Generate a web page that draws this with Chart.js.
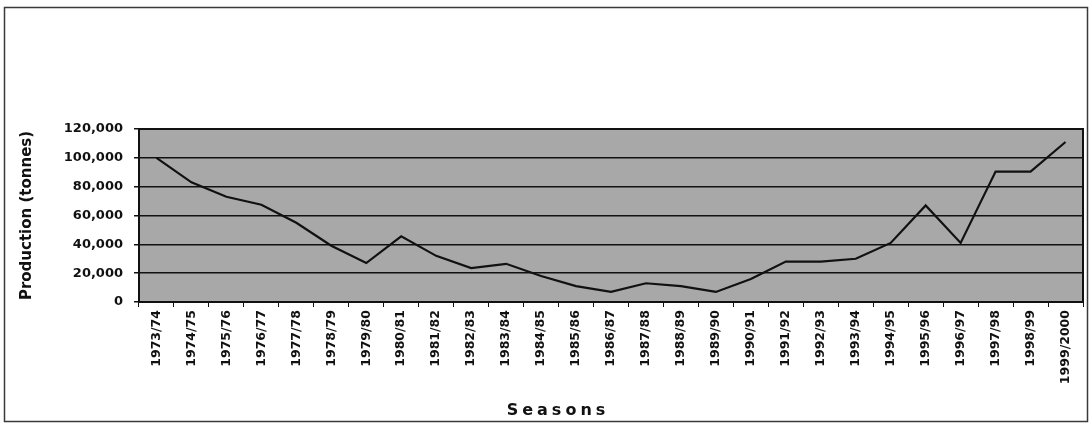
<!DOCTYPE html>
<html>
<head>
<meta charset="utf-8">
<script src="https://cdn.jsdelivr.net/npm/chart.js@4"></script>
<style>
  html, body { margin: 0; padding: 0; background: #fff; }
  #wrap { width: 1091px; height: 425px; }
</style>
</head>
<body>
<div id="wrap"><canvas id="prodChart"></canvas></div>
<script>
const seasons = [
  "1973/74", "1974/75", "1975/76", "1976/77", "1977/78", "1978/79", "1979/80",
  "1980/81", "1981/82", "1982/83", "1983/84", "1984/85", "1985/86", "1986/87",
  "1987/88", "1988/89", "1989/90", "1990/91", "1991/92", "1992/93", "1993/94",
  "1994/95", "1995/96", "1996/97", "1997/98", "1998/99", "1999/2000"
];
const production = [
  100000, 83000, 73000, 67500, 55000, 39000, 27000,
  45500, 32000, 23500, 26500, 18000, 11000, 7000,
  13000, 11000, 7000, 16000, 28000, 28000, 30000,
  41000, 67000, 41000, 90500, 90500, 111000
];
const yMax = 120000;
const yStep = 20000;

// grey plot box + outer frame + letter-spaced axis title
const paperPlugin = {
  id: "paper",
  beforeDraw(chart) {
    const ctx = chart.ctx;
    const a = chart.chartArea;
    ctx.save();
    ctx.fillStyle = "#ffffff";
    ctx.fillRect(0, 0, chart.width, chart.height);
    ctx.strokeStyle = "#3a3a3a";
    ctx.lineWidth = 1.5;
    ctx.strokeRect(4.5, 7.5, chart.width - 8, chart.height - 11);
    ctx.fillStyle = "#a8a8a8";
    ctx.fillRect(a.left, a.top, a.right - a.left, a.bottom - a.top);
    ctx.restore();
  },
  beforeDatasetsDraw(chart) {
    const ctx = chart.ctx;
    const a = chart.chartArea;
    ctx.save();
    ctx.strokeStyle = "#111";
    ctx.lineWidth = 2;
    ctx.strokeRect(a.left, a.top, a.right - a.left, a.bottom - a.top);
    ctx.restore();
  },
  afterDraw(chart) {
    const ctx = chart.ctx;
    ctx.save();
    ctx.fillStyle = "#111";
    ctx.font = "bold 16px 'DejaVu Sans'";
    ctx.letterSpacing = "4px";
    ctx.textAlign = "center";
    ctx.textBaseline = "middle";
    ctx.fillText("Seasons", 558, 411);
    ctx.restore();
  }
};

new Chart(document.getElementById("prodChart"), {
  type: "line",
  data: {
    labels: seasons,
    datasets: [{
      data: production,
      borderColor: "#111",
      borderWidth: 2.2,
      pointRadius: 0,
      tension: 0,
      fill: false
    }]
  },
  options: {
    responsive: true,
    maintainAspectRatio: false,
    animation: false,
    layout: { padding: { top: 129, right: 8, left: 0, bottom: 0 } },
    plugins: {
      legend: { display: false },
      tooltip: { enabled: false }
    },
    scales: {
      x: {
        offset: true,
        afterFit(scale) { scale.height = 123; },
        grid: {
          offset: true,
          drawOnChartArea: false,
          drawTicks: true,
          tickLength: 5,
          color: "#111"
        },
        border: { display: true, color: "#111", width: 2 },
        ticks: {
          autoSkip: false,
          maxRotation: 90,
          minRotation: 90,
          padding: 3,
          color: "#111",
          font: { family: "'DejaVu Sans'", size: 12.5, weight: "bold" }
        }
      },
      y: {
        min: 0,
        max: yMax,
        afterFit(scale) { scale.width = 139; },
        grid: {
          color: "#111",
          lineWidth: 1.5,
          drawTicks: true,
          tickLength: 5
        },
        border: { display: true, color: "#111", width: 2 },
        ticks: {
          stepSize: yStep,
          padding: 11,
          color: "#111",
          font: { family: "'DejaVu Sans'", size: 13, weight: "bold" },
          callback: (v) => v.toLocaleString("en-US")
        },
        title: {
          display: true,
          text: "Production (tonnes)",
          color: "#111",
          padding: { top: 18, bottom: 0 },
          font: { family: "'DejaVu Sans'", size: 15, weight: "bold" }
        }
      }
    }
  },
  plugins: [paperPlugin]
});
</script>
</body>
</html>
